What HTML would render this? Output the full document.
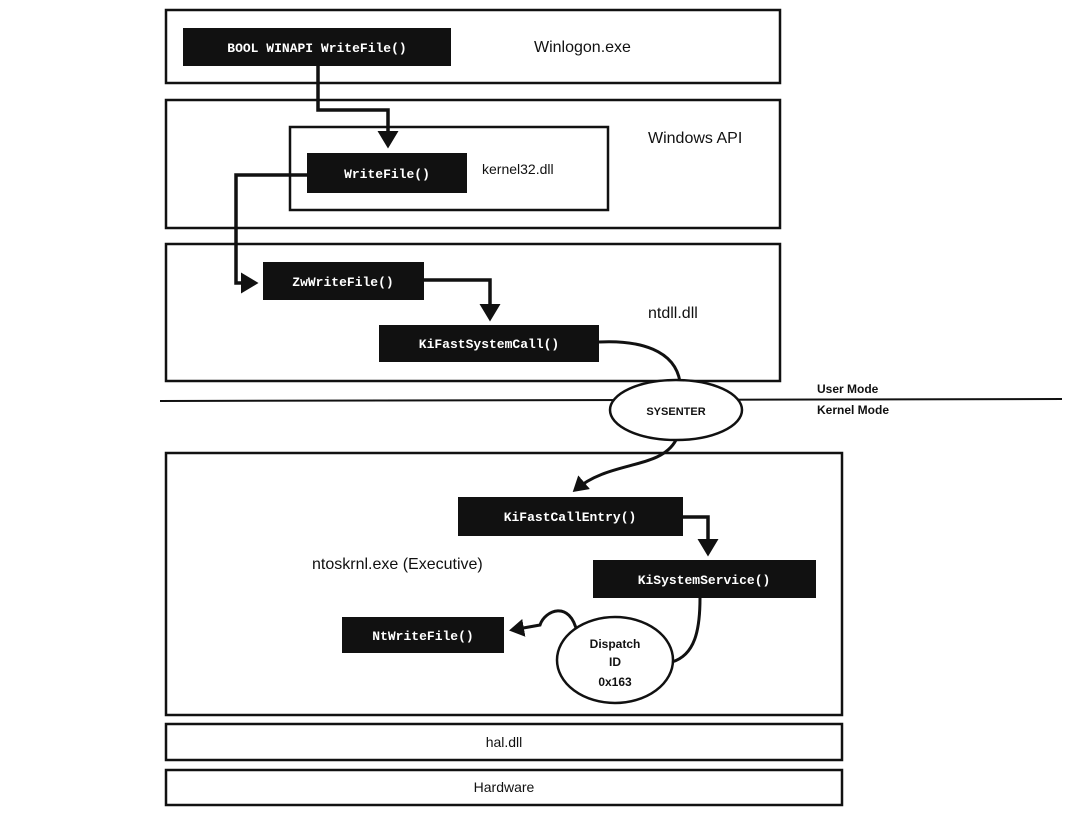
<!DOCTYPE html>
<html><head><meta charset="utf-8"><style>
body{margin:0;background:#fff;width:1087px;height:826px;overflow:hidden}
svg text{font-family:"Liberation Sans",sans-serif}
.m text{font-family:"Liberation Mono",monospace;font-weight:bold;fill:#fff;font-size:13px}
</style></head><body>
<svg width="1087" height="826" viewBox="0 0 1087 826">
<defs><marker id="a" markerWidth="6" markerHeight="6" refX="4" refY="3" orient="auto" markerUnits="strokeWidth"><path d="M0,0 L5,3 L0,6 z" fill="#111"/></marker></defs>
<g fill="none" stroke="#111" stroke-width="2.5">
<rect x="166" y="10" width="614" height="73"/>
<rect x="166" y="100" width="614" height="128"/>
<rect x="290" y="127" width="318" height="83"/>
<rect x="166" y="244" width="614" height="137"/>
<rect x="166" y="453" width="676" height="262"/>
<rect x="166" y="724" width="676" height="36"/>
<rect x="166" y="770" width="676" height="35"/>
</g>
<line x1="160" y1="401" x2="1062" y2="399" stroke="#111" stroke-width="2"/>
<g fill="#111">
<rect x="183" y="28" width="268" height="38"/>
<rect x="307" y="153" width="160" height="40"/>
<rect x="263" y="262" width="161" height="38"/>
<rect x="379" y="325" width="220" height="37"/>
<rect x="458" y="497" width="225" height="39"/>
<rect x="593" y="560" width="223" height="38"/>
<rect x="342" y="617" width="162" height="36"/>
</g>
<g fill="none" stroke="#111" stroke-width="3.5" marker-end="url(#a)">
<path d="M318,66 V110 H388 V145"/>
<path d="M307,175 H236 V283 H255"/>
<path d="M424,280 H490 V318"/>
<path d="M683,517 H708 V553"/>
</g>
<g fill="none" stroke="#111" stroke-width="3">
<path d="M599,342 C640,340 675,350 680,382"/>
<path d="M676,440 C660,470 610,460 575,490" marker-end="url(#a)"/>
<path d="M700,598 C700,630 695,655 672,662"/>
<path d="M577,632 C570,600 545,610 540,625 L512,630" marker-end="url(#a)"/>
</g>
<ellipse cx="676" cy="410" rx="66" ry="30" fill="#fff" stroke="#111" stroke-width="2.5"/>
<ellipse cx="615" cy="660" rx="58" ry="43" fill="#fff" stroke="#111" stroke-width="2.5"/>
<g class="m" text-anchor="middle">
<text x="317" y="52">BOOL WINAPI WriteFile()</text>
<text x="387" y="178">WriteFile()</text>
<text x="343" y="286">ZwWriteFile()</text>
<text x="489" y="348">KiFastSystemCall()</text>
<text x="570" y="521">KiFastCallEntry()</text>
<text x="704" y="584">KiSystemService()</text>
<text x="423" y="640">NtWriteFile()</text>
</g>
<g font-size="16" fill="#111">
<text x="534" y="52">Winlogon.exe</text>
<text x="648" y="143">Windows API</text>
<text x="482" y="174" font-size="14">kernel32.dll</text>
<text x="648" y="318">ntdll.dll</text>
<text x="312" y="569">ntoskrnl.exe (Executive)</text>
<text x="504" y="747" font-size="14" text-anchor="middle">hal.dll</text>
<text x="504" y="792" font-size="14" text-anchor="middle">Hardware</text>
</g>
<g font-size="12" font-weight="bold" fill="#111">
<text x="817" y="393">User Mode</text>
<text x="817" y="414">Kernel Mode</text>
<text x="676" y="415" text-anchor="middle" font-size="11">SYSENTER</text>
<text x="615" y="648" text-anchor="middle">Dispatch</text>
<text x="615" y="666" text-anchor="middle">ID</text>
<text x="615" y="686" text-anchor="middle">0x163</text>
</g>
</svg>
</body></html>
